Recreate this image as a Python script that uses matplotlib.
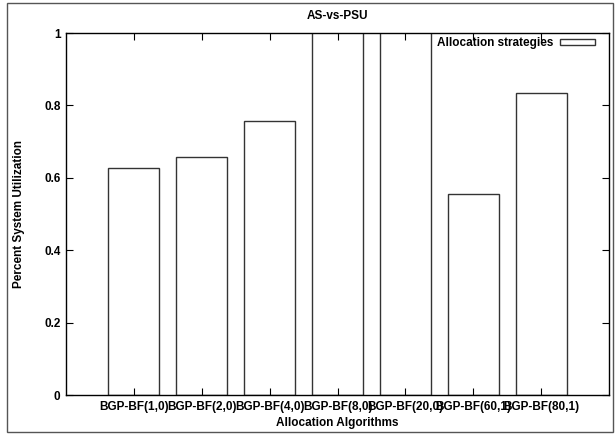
import matplotlib
matplotlib.use('Agg')
import matplotlib.pyplot as plt
from matplotlib.patches import Rectangle

plt.rcParams['font.family'] = ['Liberation Sans', 'DejaVu Sans']

# data (bars 4 and 5 run off the top, >1)
algos = ['BGP-BF(1,0)', 'BGP-BF(2,0)', 'BGP-BF(4,0)', 'BGP-BF(8,0)',
         'BGP-BF(20,0)', 'BGP-BF(60,1)', 'BGP-BF(80,1)']
util = [0.627, 0.657, 0.758, 1.2, 1.2, 0.555, 0.833]

fig = plt.figure(figsize=(6.15, 4.36), dpi=100)
ax = fig.add_axes([66/615, 41/436, 543/615, 362/436])

x = list(range(len(algos)))
ax.bar(x, util, width=0.75, color='white', edgecolor='#333333', linewidth=1.0,
       label='Allocation strategies')

ax.set_xlim(-1, 7)
ax.set_ylim(0, 1)
ax.set_xticks(x)
ax.set_xticklabels(algos, fontsize=8.5, fontweight='bold')
ax.set_yticks([0, 0.2, 0.4, 0.6, 0.8, 1])
ax.set_yticklabels(['0', '0.2', '0.4', '0.6', '0.8', '1'], fontsize=8.5, fontweight='bold')
ax.tick_params(direction='in', length=5, width=0.8, top=True, right=True, pad=4)
for s in ax.spines.values():
    s.set_linewidth(1.0)

ax.set_title('AS-vs-PSU', fontsize=8.5, fontweight='bold', pad=10)
ax.set_xlabel('Allocation Algorithms', fontsize=8.5, fontweight='bold', labelpad=3)
ax.set_ylabel('Percent System Utilization', fontsize=8.5, fontweight='bold', labelpad=14)

ax.legend(loc='upper right', bbox_to_anchor=(0.981, 0.998), frameon=False, markerfirst=False,
          prop={'weight': 'bold', 'size': 8.5}, handlelength=3.0, handleheight=0.5,
          borderaxespad=0, borderpad=0.3, handletextpad=0.5)

# outer frame around the whole picture
fig.patches.append(Rectangle((7/615, 4/436), 606/615, 429/436, transform=fig.transFigure,
                             fill=False, edgecolor='#555555', linewidth=1.0))

fig.savefig('out.png', dpi=100)
